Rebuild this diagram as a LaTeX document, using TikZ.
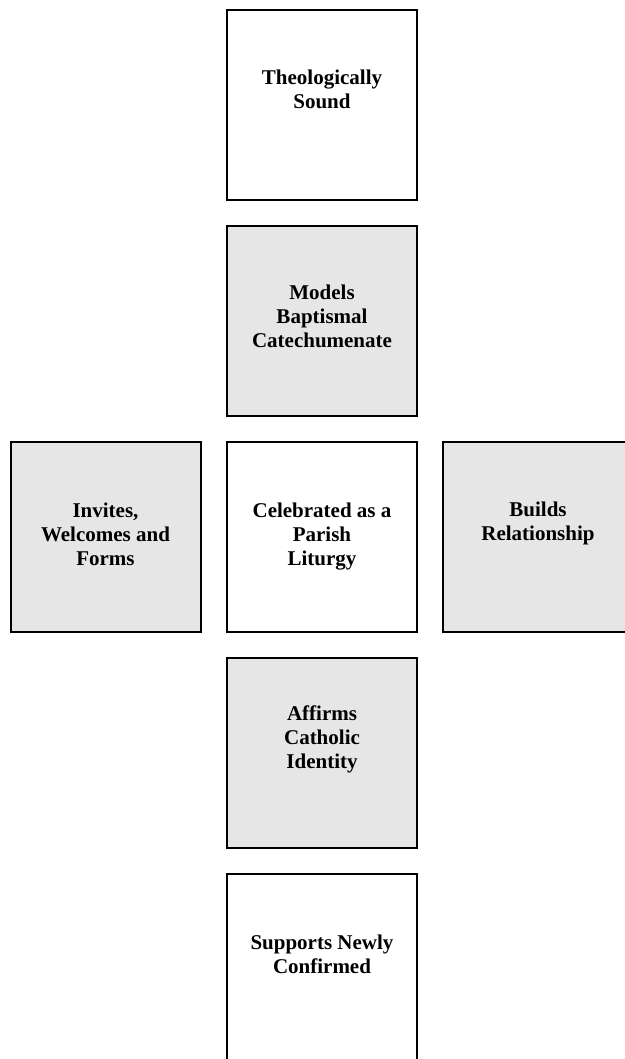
\documentclass[tikz,border=0pt]{standalone}
\usepackage{fontspec}
\setmainfont{Liberation Serif}
\usepackage{xcolor}
\usepackage{tikz}
\usetikzlibrary{calc, positioning}

\definecolor{cardgrey}{RGB}{230,230,230}

\begin{document}
\begin{tikzpicture}[x=1pt, y=-1pt,
    card/.style={draw, line width=2pt, minimum width=190pt, minimum height=190pt, inner sep=0pt, outer sep=0pt},
    plaincard/.style={card, fill=white},
    greycard/.style={card, fill=cardgrey},
    cardtext/.style={font=\fontsize{21}{24}\selectfont\bfseries, align=center, anchor=base, inner sep=0pt}]

    \useasboundingbox (0,0) rectangle (624,1059);

    % Cards of the cross
    \node[plaincard] (sound)    at (322,105) {};
    \node[greycard]  (models)   at (322,321) {};
    \node[greycard]  (invites)  at (105.5,537) {};
    \node[plaincard] (liturgy)  at (322,537) {};
    \node[greycard]  (builds)   at (538,537) {};
    \node[greycard]  (affirms)  at (322,753) {};
    \node[plaincard] (supports) at (322,969) {};

    % Card texts (base = last line)
    \node[cardtext] (soundtxt)    at ($(sound.north)+(0,99)$)     {Theologically\\Sound};
    \node[cardtext] (modelstxt)   at ($(models.north)+(0,121)$)   {Models\\Baptismal\\Catechumenate};
    \node[cardtext] (invitestxt)  at ($(invites.north)+(0,123)$)  {Invites,\\Welcomes and\\Forms};
    \node[cardtext] (liturgytxt)  at ($(liturgy.north)+(0,123)$)  {Celebrated as a\\Parish\\Liturgy};
    \node[cardtext] (buildstxt)   at ($(builds.north)+(0,98)$)    {Builds\\Relationship};
    \node[cardtext] (affirmstxt)  at ($(affirms.north)+(0,110)$)  {Affirms\\Catholic\\Identity};
    \node[cardtext] (supportstxt) at ($(supports.north)+(0,99)$)  {Supports Newly\\Confirmed};
\end{tikzpicture}
\end{document}
